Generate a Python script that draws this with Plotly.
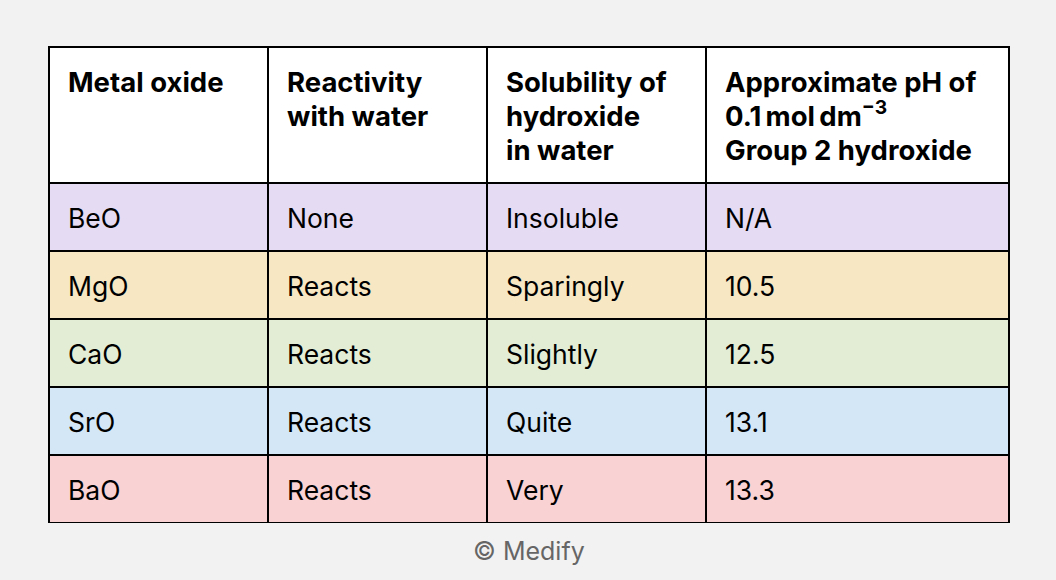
import plotly.graph_objects as go

# 表头与各列数据
headers = [
    ["Metal oxide"],
    ["Reactivity", "with water"],
    ["Solubility of", "hydroxide", "in water"],
    ["Approximate pH of", "0.1\u2009mol\u2009dm<sup>\u22123</sup>", "Group 2 hydroxide"],
]
oxides = ["BeO", "MgO", "CaO", "SrO", "BaO"]
reactivity = ["None", "Reacts", "Reacts", "Reacts", "Reacts"]
solubility = ["Insoluble", "Sparingly", "Slightly", "Quite", "Very"]
ph_values = ["N/A", "10.5", "12.5", "13.1", "13.3"]

row_colors = ["#e5dbf3", "#f7e7c3", "#e3edd6", "#d3e7f7", "#f9d2d3"]

BASE = 6.54   # 小号基础字体，空行高度 = 1.3 * BASE
GAP = 4       # 行与行之间的 <br> 数量（4 * 1.3 * 6.54 ≈ 34px 行距）
TOP = 4       # 顶部空行数量，把文字往下推
# 第一行放一个透明的小点，防止顶部空行被忽略
ANCHOR = "<span style='font-size:3px;color:rgba(0,0,0,0)'>.</span>"
INDENT = "<span style='font-size:22px'>\u2002</span>"  # 左侧留白


def fmt(lines, size, bold=False):
    parts = []
    for ln in lines:
        t = f"<span style='font-size:{size}px'>{ln}</span>"
        if bold:
            t = f"<b>{t}</b>"
        parts.append(INDENT + t)
    return ANCHOR + "<br>" * TOP + ("<br>" * GAP).join(parts)


header_vals = [fmt(h, 27.5, bold=True) for h in headers]
cell_vals = [[fmt([v], 26.5) for v in col] for col in [oxides, reactivity, solubility, ph_values]]

fig = go.Figure(go.Table(
    columnwidth=[219, 219, 219, 303],
    header=dict(
        values=header_vals,
        fill_color="white",
        line=dict(color="black", width=2),
        align="left",
        height=136,
        font=dict(family="Inter", size=BASE, color="black"),
    ),
    cells=dict(
        values=cell_vals,
        fill_color=[row_colors] * 4,
        line=dict(color="black", width=2),
        align="left",
        height=68,
        font=dict(family="Inter", size=BASE, color="black"),
    ),
))

fig.update_layout(
    width=1056, height=580,
    paper_bgcolor="#f2f2f2",
    margin=dict(l=49, r=47, t=47, b=57),
    annotations=[dict(
        text="\u00a9 Medify", x=0.5, y=-0.059, xref="paper", yref="paper",
        showarrow=False, yanchor="middle",
        font=dict(family="Inter", size=25, color="#666666"),
    )],
)

fig.write_html("out.html", config={"displayModeBar": False},
               post_script="document.body.style.margin='0';")
